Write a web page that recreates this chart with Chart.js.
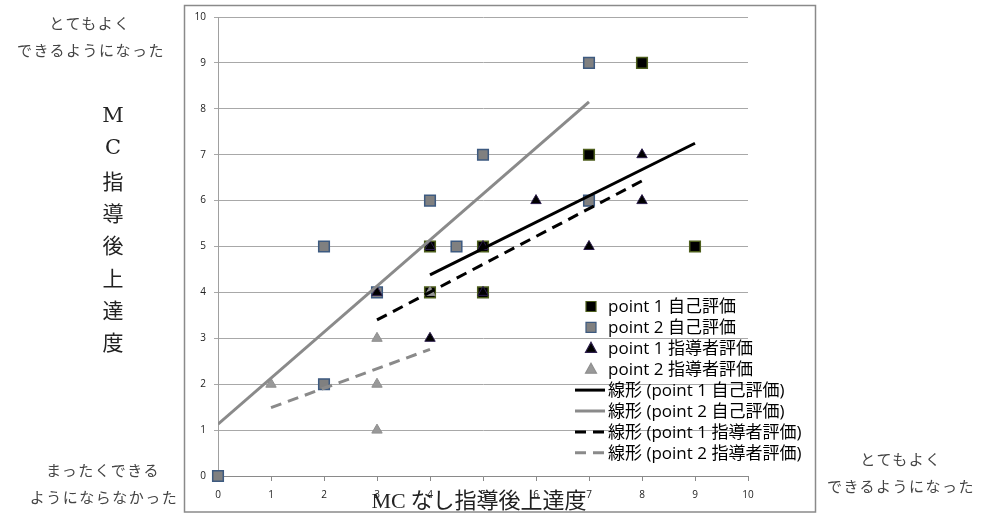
<!DOCTYPE html>
<html>
<head>
<meta charset="utf-8">
<script src="https://cdn.jsdelivr.net/npm/chart.js@4.4.1/dist/chart.umd.min.js"></script>
<style>
    body { margin: 0; background: #fff; }
    #wrap { position: relative; width: 998px; height: 513px; overflow: hidden; }
    #chart { position: absolute; left: 0; top: 0; }
    .note {
        position: absolute;
        font-family: "Noto Sans CJK JP", sans-serif;
        font-size: 15px;
        color: #444;
        letter-spacing: 1.5px;
        white-space: nowrap;
        text-align: center;
        transform: translate(-50%, -50%);
    }
    .ytitle {
        position: absolute;
        left: 113px;
        transform: translate(-50%, -50%);
        font-family: "DejaVu Serif", "Noto Sans CJK JP", serif;
        font-size: 21px;
        color: #222;
    }
    .ytitle.cjk { font-family: "Noto Sans CJK JP", sans-serif; }
    #xtitle {
        position: absolute;
        left: 479px;
        top: 498px;
        transform: translate(-50%, -50%);
        white-space: nowrap;
        font-size: 22px;
        color: #222;
    }
    #xtitle .lat { font-family: "Liberation Serif", "DejaVu Serif", serif; }
    #xtitle .cjk { font-family: "Noto Sans CJK JP", sans-serif; }
</style>
</head>
<body>
<div id="wrap">
    <canvas id="chart" width="998" height="513"></canvas>
    <div class="note" style="left:90px;top:22px">とてもよく</div>
    <div class="note" style="left:91px;top:49px">できるようになった</div>
    <div class="note" style="left:103px;top:469px">まったくできる</div>
    <div class="note" style="left:104px;top:496px">ようにならなかった</div>
    <div class="note" style="left:901px;top:458px">とてもよく</div>
    <div class="note" style="left:901px;top:485px">できるようになった</div>
    <div id="ytitle-box"></div>
    <div id="xtitle"><span class="lat">MC</span><span class="cjk"> なし指導後上達度</span></div>
</div>
<script>
// Scatter data (x = MC なし, y = MC 指導後)
const selfP1X = [8, 7, 9, 5, 4, 5, 4];
const selfP1Y = [9, 7, 5, 5, 4, 4, 5];
const selfP2X = [0, 2, 2, 3, 4, 4.5, 5, 7, 7];
const selfP2Y = [0, 2, 5, 4, 6, 5, 7, 9, 6];
const leadP1X = [3, 4, 5, 5, 6, 7, 8, 8, 4];
const leadP1Y = [4, 5, 5, 4, 6, 5, 7, 6, 3];
const leadP2X = [1, 3, 3, 3, 4];
const leadP2Y = [2, 3, 2, 1, 4];

// Trend line end points as drawn in the picture
const trendSelfP1X = [4, 9];
const trendSelfP1Y = [4.38, 7.25];
const trendSelfP2X = [0, 7];
const trendSelfP2Y = [1.13, 8.15];
const trendLeadP1X = [3, 8];
const trendLeadP1Y = [3.4, 6.43];
const trendLeadP2X = [1, 4];
const trendLeadP2Y = [1.49, 2.76];

const xTicks = [0, 1, 2, 3, 4, 5, 6, 7, 8, 9, 10];
const yTitleChars = ['M', 'C', '指', '導', '後', '上', '達', '度'];

const legendLabels = [
    'point 1 自己評価',
    'point 2 自己評価',
    'point 1 指導者評価',
    'point 2 指導者評価',
    '線形 (point 1 自己評価)',
    '線形 (point 2 自己評価)',
    '線形 (point 1 指導者評価)',
    '線形 (point 2 指導者評価)'
];

// vertical y title
const yBox = document.getElementById('ytitle-box');
yTitleChars.forEach((c, i) => {
    const d = document.createElement('div');
    d.className = 'ytitle' + (i > 1 ? ' cjk' : '');
    d.style.top = (115 + i * 32.3) + 'px';
    d.textContent = c;
    yBox.appendChild(d);
});

function toPoints(xs, ys) {
    return xs.map((x, i) => ({ x: x, y: ys[i] }));
}

function trend(label, xs, ys, color, dash) {
    return {
        label: label,
        data: toPoints(xs, ys),
        showLine: true,
        borderColor: color,
        borderWidth: 3,
        borderDash: dash,
        pointRadius: 0,
        fill: false,
        order: 1
    };
}

// frame around the whole chart
const framePlugin = {
    id: 'frame',
    beforeDraw(chart) {
        const ctx = chart.ctx;
        ctx.save();
        ctx.strokeStyle = '#8a8a8a';
        ctx.lineWidth = 1.5;
        ctx.strokeRect(184.5, 5.5, 631, 506.5);
        ctx.restore();
    }
};

// legend drawn inside the plot area, lower right
const legendPlugin = {
    id: 'innerLegend',
    afterDraw(chart) {
        const ctx = chart.ctx;
        const ds = chart.data.datasets;
        ctx.save();
        ctx.font = '17px "Open Sans", "Noto Sans CJK JP", sans-serif';
        ctx.textBaseline = 'middle';
        ctx.fillStyle = '#000';
        legendLabels.forEach((label, i) => {
            const y = 306.5 + i * 20.9;
            const d = ds.find(s => s.label === label);
            if (d.showLine) {
                ctx.beginPath();
                ctx.setLineDash(d.borderDash || []);
                ctx.lineDashOffset = 0;
                ctx.strokeStyle = d.borderColor;
                ctx.lineWidth = 3;
                ctx.moveTo(575, y);
                ctx.lineTo(605, y);
                ctx.stroke();
                ctx.setLineDash([]);
            } else {
                ctx.beginPath();
                if (d.pointStyle === 'rect') {
                    ctx.rect(586, y - 5, 10, 10);
                } else {
                    ctx.moveTo(591, y - 6);
                    ctx.lineTo(596.5, y + 4);
                    ctx.lineTo(585.5, y + 4);
                    ctx.closePath();
                }
                ctx.fillStyle = d.backgroundColor;
                ctx.fill();
                ctx.strokeStyle = d.borderColor;
                ctx.lineWidth = 1.2;
                ctx.stroke();
            }
            ctx.fillStyle = '#000';
            ctx.fillText(label, 608, y + 1);
        });
        ctx.restore();
    }
};

new Chart(document.getElementById('chart'), {
    type: 'scatter',
    data: {
        datasets: [
            trend('線形 (point 1 自己評価)', trendSelfP1X, trendSelfP1Y, '#000', []),
            trend('線形 (point 2 自己評価)', trendSelfP2X, trendSelfP2Y, '#8a8a8a', []),
            trend('線形 (point 1 指導者評価)', trendLeadP1X, trendLeadP1Y, '#000', [11, 7]),
            trend('線形 (point 2 指導者評価)', trendLeadP2X, trendLeadP2Y, '#8a8a8a', [11, 7]),
            {
                label: 'point 2 指導者評価',
                data: toPoints(leadP2X, leadP2Y),
                pointStyle: 'triangle',
                pointRadius: 6,
                backgroundColor: '#999999',
                borderColor: '#8f8f8f',
                borderWidth: 1,
                clip: false,
                order: 2
            },
            {
                label: 'point 1 指導者評価',
                data: toPoints(leadP1X, leadP1Y),
                pointStyle: 'triangle',
                pointRadius: 6,
                backgroundColor: '#000000',
                borderColor: '#2b1d4a',
                borderWidth: 1,
                clip: false,
                order: 3
            },
            {
                label: 'point 1 自己評価',
                data: toPoints(selfP1X, selfP1Y),
                pointStyle: 'rect',
                pointRadius: 7.5,
                backgroundColor: '#000000',
                borderColor: '#4d5e1c',
                borderWidth: 1.5,
                clip: false,
                order: 4
            },
            {
                label: 'point 2 自己評価',
                data: toPoints(selfP2X, selfP2Y),
                pointStyle: 'rect',
                pointRadius: 7.5,
                backgroundColor: '#808080',
                borderColor: '#3d5a80',
                borderWidth: 1.5,
                clip: false,
                order: 5
            }
        ]
    },
    options: {
        responsive: false,
        animation: false,
        layout: { padding: { left: 0, right: 250, top: 17, bottom: 0 } },
        plugins: {
            legend: { display: false },
            tooltip: { enabled: false }
        },
        scales: {
            x: {
                type: 'linear',
                min: 0,
                max: 10,
                afterBuildTicks: (scale) => { scale.ticks = xTicks.map(v => ({ value: v })); },
                ticks: {
                    color: '#222',
                    padding: 8,
                    font: { family: 'Open Sans', size: 10 }
                },
                grid: { drawOnChartArea: false, tickLength: 5, color: '#8a8a8a' },
                border: { color: '#8a8a8a' },
                afterFit: (scale) => { scale.height = 37; }
            },
            y: {
                min: 0,
                max: 10,
                ticks: {
                    stepSize: 1,
                    color: '#222',
                    padding: 8,
                    font: { family: 'Open Sans', size: 10 }
                },
                grid: { color: '#a8a8a8', tickLength: 4 },
                border: { color: '#a0a0a0' },
                afterFit: (scale) => { scale.width = 218; }
            }
        }
    },
    plugins: [framePlugin, legendPlugin]
});
</script>
</body>
</html>
